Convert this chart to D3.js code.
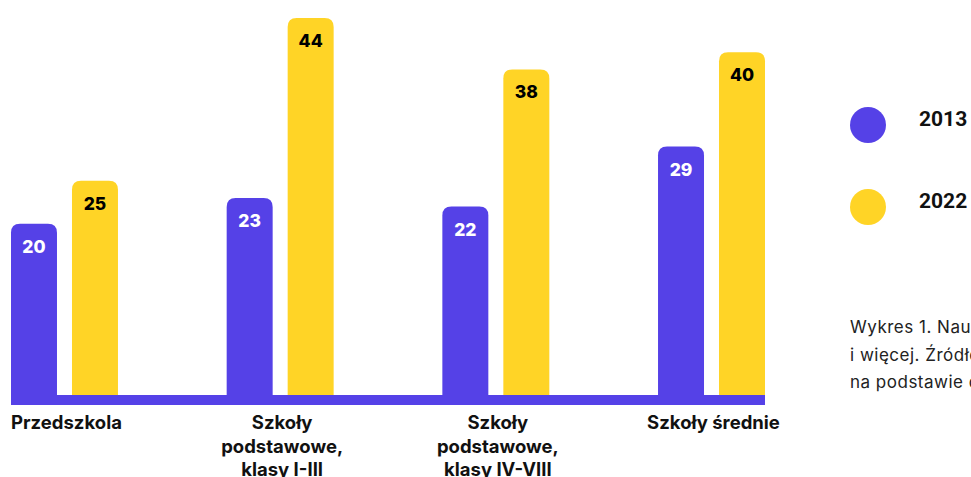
<!DOCTYPE html>
<html><head><meta charset="utf-8">
<script src="https://cdn.jsdelivr.net/npm/d3@7"></script>
<style>
html,body{margin:0;padding:0;background:#fff;overflow:hidden}
svg{display:block}
</style></head>
<body>
<svg id="chart" width="971" height="477"></svg>
<script>
const categories = [["Przedszkola"], ["Szkoły", "podstawowe,", "klasy I-III"], ["Szkoły", "podstawowe,", "klasy IV-VIII"], ["Szkoły średnie"]];
const seriesNames = ["2013", "2022"];
const values2013 = [20, 23, 22, 29];
const values2022 = [25, 44, 38, 40];
const captionLines = ["Wykres 1. Nauczyciele w wieku 50 lat", "i więcej. Źródło: opracowanie własne", "na podstawie danych SIO"];

const colors = {"2013": "#5541E7", "2022": "#FFD426"};
const textColors = {"2013": "#ffffff", "2022": "#000000"};
const W = 971, H = 477;
const svg = d3.select("#chart");
const font = "Inter, 'Noto Sans', sans-serif";

const baseY = 395;
const x0 = d3.scaleBand().domain(d3.range(categories.length)).range([11, 765]).paddingInner(0.504).paddingOuter(0);
const x1 = d3.scaleBand().domain(seriesNames).range([0, x0.bandwidth()]).paddingInner(0.246);
const y = d3.scaleLinear().domain([0, 44]).range([baseY, 18]);

const data = [];
categories.forEach((c, i) => {
  data.push({i, s: "2013", v: values2013[i]});
  data.push({i, s: "2022", v: values2022[i]});
});

function topRounded(x, yTop, w, h, r) {
  return `M${x},${yTop + h}V${yTop + r}Q${x},${yTop} ${x + r},${yTop}H${x + w - r}Q${x + w},${yTop} ${x + w},${yTop + r}V${yTop + h}Z`;
}

const g = svg.append("g");
g.selectAll("path.bar").data(data).join("path")
  .attr("class", "bar")
  .attr("fill", d => colors[d.s])
  .attr("d", d => {
    const bx = x0(d.i) + x1(d.s);
    const yt = y(d.v);
    return topRounded(bx, yt, x1.bandwidth(), baseY + 2 - yt, 9);
  });

// baseline band
g.append("rect")
  .attr("x", x0.range()[0]).attr("y", baseY)
  .attr("width", x0.range()[1] - x0.range()[0]).attr("height", 10)
  .attr("fill", colors["2013"]);

// value labels
g.selectAll("text.val").data(data).join("text")
  .attr("class", "val")
  .attr("x", d => x0(d.i) + x1(d.s) + x1.bandwidth() / 2)
  .attr("y", d => y(d.v) + 29)
  .attr("text-anchor", "middle")
  .attr("font-family", font).attr("font-weight", 800).attr("font-size", 17.5)
  .attr("fill", d => textColors[d.s])
  .text(d => d.v);

// category labels
const cl = g.selectAll("text.cat").data(categories).join("text")
  .attr("class", "cat")
  .attr("x", (d, i) => x0(i) + x0.bandwidth() / 2 + 2)
  .attr("y", 429)
  .attr("text-anchor", "middle")
  .attr("font-family", font).attr("font-weight", 700).attr("font-size", 18.5)
  .attr("fill", "#111");
cl.selectAll("tspan").data(d => d).join("tspan")
  .attr("x", function() { return d3.select(this.parentNode).attr("x"); })
  .attr("dy", (d, j) => j === 0 ? 0 : 23.5)
  .text(d => d);

// legend
const leg = svg.append("g");
seriesNames.forEach((s, k) => {
  const cy = 125 + k * 82;
  leg.append("circle").attr("cx", 868).attr("cy", cy).attr("r", 18).attr("fill", colors[s]);
  leg.append("text").attr("x", 919).attr("y", cy + 1)
    .attr("font-family", "Roboto, sans-serif").attr("font-weight", 700).attr("font-size", 21)
    .attr("fill", "#111").text(s);
});

// caption
svg.append("g").selectAll("text").data(captionLines).join("text")
  .attr("x", 850).attr("y", (d, i) => 333 + i * 27.5)
  .attr("font-family", font).attr("font-size", 17).attr("letter-spacing", 0.5).attr("fill", "#222")
  .text(d => d);
</script>
</body></html>
